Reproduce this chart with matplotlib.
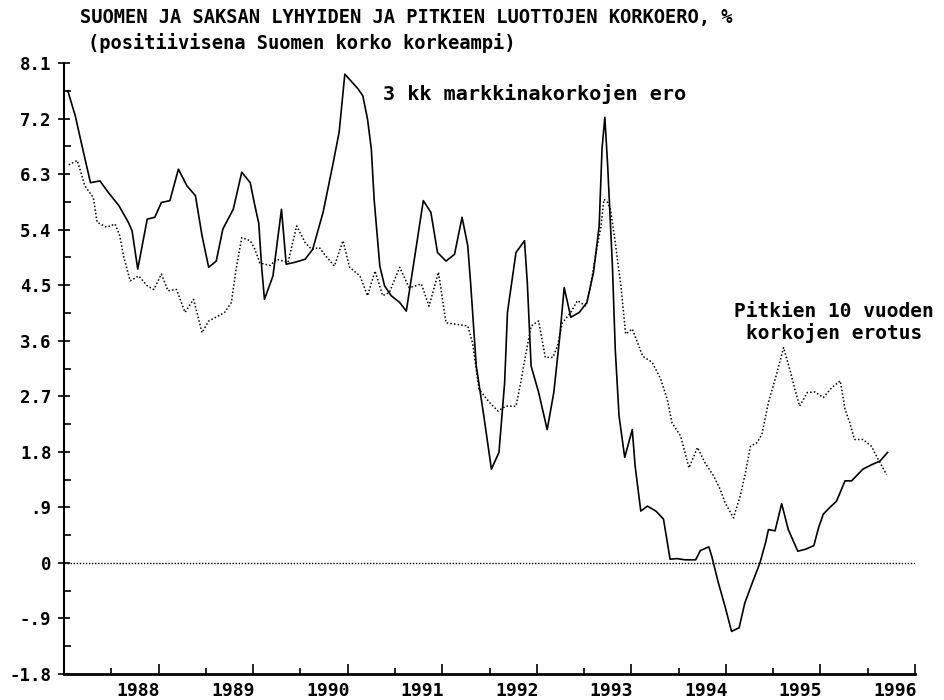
import numpy as np
import matplotlib
matplotlib.use("Agg")
import matplotlib.pyplot as plt
from matplotlib.transforms import ScaledTranslation

# 3 kk markkinakorkojen ero (kiintea viiva)
short_t = [1987.04, 1987.12, 1987.19, 1987.28, 1987.38, 1987.47, 1987.58, 1987.68, 1987.72, 1987.78,
           1987.88, 1987.96, 1988.03, 1988.12, 1988.21, 1988.30, 1988.39, 1988.46, 1988.53, 1988.61,
           1988.68, 1988.79, 1988.88, 1988.97, 1989.01, 1989.06, 1989.09, 1989.12, 1989.21, 1989.30,
           1989.35, 1989.44, 1989.55, 1989.63, 1989.74, 1989.84, 1989.91, 1989.97, 1990.11, 1990.16,
           1990.21, 1990.25, 1990.28, 1990.34, 1990.39, 1990.46, 1990.55, 1990.62, 1990.71, 1990.80,
           1990.88, 1990.95, 1991.04, 1991.13, 1991.21, 1991.27, 1991.30, 1991.36, 1991.44, 1991.52,
           1991.60, 1991.66, 1991.69, 1991.78, 1991.87, 1991.90, 1991.94, 1992.02, 1992.11, 1992.18,
           1992.24, 1992.29, 1992.36, 1992.45, 1992.53, 1992.60, 1992.66, 1992.69, 1992.72, 1992.75,
           1992.80, 1992.83, 1992.87, 1992.93, 1993.01, 1993.04, 1993.10, 1993.17, 1993.26, 1993.34,
           1993.41, 1993.48, 1993.57, 1993.68, 1993.73, 1993.82, 1993.85, 1993.92, 1993.99, 1994.06,
           1994.14, 1994.20, 1994.28, 1994.36, 1994.42, 1994.45, 1994.52, 1994.59, 1994.66, 1994.76,
           1994.84, 1994.93, 1994.98, 1995.03, 1995.10, 1995.17, 1995.26, 1995.33, 1995.38, 1995.45,
           1995.54, 1995.63, 1995.71]
short_v = [7.65, 7.24, 6.76, 6.16, 6.19, 6.00, 5.79, 5.52, 5.38, 4.76,
           5.57, 5.60, 5.84, 5.87, 6.38, 6.11, 5.95, 5.30, 4.79, 4.89,
           5.41, 5.73, 6.33, 6.16, 5.85, 5.50, 4.80, 4.27, 4.65, 5.73,
           4.84, 4.87, 4.92, 5.08, 5.68, 6.43, 6.98, 7.92, 7.68, 7.57,
           7.19, 6.71, 5.89, 4.81, 4.49, 4.33, 4.22, 4.08, 4.97, 5.87,
           5.68, 5.03, 4.89, 5.00, 5.60, 5.14, 4.54, 3.19, 2.38, 1.52,
           1.79, 2.92, 4.06, 5.03, 5.22, 4.54, 3.19, 2.76, 2.16, 2.76,
           3.62, 4.46, 3.98, 4.06, 4.22, 4.71, 5.46, 6.71, 7.22, 6.43,
           4.81, 3.46, 2.38, 1.71, 2.16, 1.57, 0.84, 0.92, 0.84, 0.71,
           0.06, 0.07, 0.05, 0.05, 0.20, 0.26, 0.11, -0.32, -0.70, -1.11,
           -1.05, -0.65, -0.32, 0.00, 0.33, 0.54, 0.52, 0.96, 0.54, 0.19,
           0.22, 0.28, 0.57, 0.79, 0.90, 1.00, 1.33, 1.33, 1.41, 1.52,
           1.59, 1.65, 1.79]

# Pitkien 10 vuoden korkojen erotus (pisteviiva)
long_t = [1987.05, 1987.14, 1987.19, 1987.22, 1987.31, 1987.35, 1987.45, 1987.54, 1987.59, 1987.63,
          1987.70, 1987.79, 1987.88, 1987.95, 1988.03, 1988.10, 1988.19, 1988.28, 1988.37, 1988.46,
          1988.53, 1988.63, 1988.70, 1988.77, 1988.82, 1988.88, 1988.97, 1989.02, 1989.07, 1989.18,
          1989.25, 1989.37, 1989.46, 1989.55, 1989.62, 1989.70, 1989.77, 1989.86, 1989.95, 1990.02,
          1990.13, 1990.21, 1990.29, 1990.37, 1990.44, 1990.55, 1990.65, 1990.72, 1990.78, 1990.86,
          1990.96, 1991.04, 1991.13, 1991.27, 1991.32, 1991.39, 1991.50, 1991.59, 1991.67, 1991.78,
          1991.83, 1991.88, 1991.94, 1992.02, 1992.09, 1992.17, 1992.22, 1992.27, 1992.36, 1992.43,
          1992.52, 1992.57, 1992.62, 1992.68, 1992.71, 1992.75, 1992.78, 1992.83, 1992.89, 1992.94,
          1993.01, 1993.12, 1993.22, 1993.31, 1993.38, 1993.43, 1993.52, 1993.61, 1993.70, 1993.78,
          1993.87, 1993.94, 1993.99, 1994.08, 1994.15, 1994.20, 1994.26, 1994.33, 1994.38, 1994.45,
          1994.54, 1994.61, 1994.68, 1994.73, 1994.78, 1994.86, 1994.94, 1995.03, 1995.12, 1995.21,
          1995.26, 1995.31, 1995.36, 1995.45, 1995.54, 1995.61, 1995.70]
long_v = [6.45, 6.52, 6.27, 6.11, 5.92, 5.52, 5.44, 5.49, 5.30, 4.97,
          4.57, 4.65, 4.49, 4.43, 4.68, 4.41, 4.43, 4.06, 4.27, 3.73,
          3.92, 4.00, 4.06, 4.22, 4.76, 5.27, 5.22, 5.08, 4.86, 4.82,
          4.92, 4.87, 5.46, 5.19, 5.08, 5.11, 4.97, 4.81, 5.22, 4.79,
          4.65, 4.33, 4.73, 4.33, 4.38, 4.79, 4.46, 4.49, 4.52, 4.16,
          4.71, 3.89, 3.87, 3.84, 3.57, 2.81, 2.60, 2.46, 2.54, 2.54,
          2.92, 3.35, 3.84, 3.92, 3.33, 3.33, 3.52, 3.89, 4.06, 4.25,
          4.16, 4.49, 4.97, 5.46, 5.89, 5.84, 5.73, 5.19, 4.49, 3.71,
          3.79, 3.35, 3.25, 2.98, 2.65, 2.27, 2.06, 1.54, 1.87, 1.62,
          1.41, 1.19, 0.98, 0.73, 1.08, 1.41, 1.89, 1.95, 2.08, 2.60,
          3.08, 3.49, 3.11, 2.81, 2.54, 2.76, 2.77, 2.68, 2.84, 2.95,
          2.49, 2.27, 2.00, 2.00, 1.89, 1.68, 1.43]

years = list(range(1988, 1997))
y_ticks = [-1.8, -0.9, 0, 0.9, 1.8, 2.7, 3.6, 4.5, 5.4, 6.3, 7.2, 8.1]
y_labels = ["-1.8", "-.9", "0", ".9", "1.8", "2.7", "3.6", "4.5", "5.4", "6.3", "7.2", "8.1"]

mono = "DejaVu Sans Mono"

fig = plt.figure(figsize=(9.45, 7), dpi=100)
ax = fig.add_axes([64 / 945, 1 - 674 / 700, (915 - 64) / 945, (674 - 63) / 700])

ax.plot(short_t, short_v, color="black", lw=1.2)
ax.plot(long_t, long_v, color="black", lw=1.1, linestyle=(0, (1, 1.4)))
ax.plot([1987, 1996], [0, 0], color="black", lw=1.0, linestyle=(0, (1, 1.2)))

ax.set_xlim(1987, 1996)
ax.set_ylim(-1.8, 8.1)

for s in ["top", "right"]:
    ax.spines[s].set_visible(False)
ax.spines["left"].set_linewidth(1.5)
ax.spines["bottom"].set_linewidth(2)

ax.set_xticks(years)
ax.set_xticklabels([str(y) for y in years], fontfamily=mono, fontweight="bold", fontsize=13)
ax.set_xticks(np.arange(1987.5, 1996, 1.0), minor=True)
ax.tick_params(axis="x", which="major", direction="in", length=7, width=1.2, pad=6)
ax.tick_params(axis="x", which="minor", direction="in", length=4, width=1.2)
shift = ScaledTranslation(-0.20, 0, fig.dpi_scale_trans)
for lab in ax.get_xticklabels():
    lab.set_transform(lab.get_transform() + shift)

ax.set_yticks(y_ticks)
ax.set_yticklabels(y_labels, fontfamily=mono, fontweight="bold", fontsize=12.5)
ax.set_yticks(np.arange(-1.35, 8.1, 0.9), minor=True)
ax.tick_params(axis="y", which="major", direction="inout", length=8, width=1.2, pad=5)
ax.tick_params(axis="y", which="minor", direction="in", length=5, width=1.2)

fig.text(80 / 945, 1 - 18 / 700, "SUOMEN JA SAKSAN LYHYIDEN JA PITKIEN LUOTTOJEN KORKOERO, %",
         fontfamily=mono, fontweight="bold", fontsize=13.5, va="center", ha="left")
fig.text(88 / 945, 1 - 43 / 700, "(positiivisena Suomen korko korkeampi)",
         fontfamily=mono, fontweight="bold", fontsize=13.5, va="center", ha="left")

ax.text(1990.37, 7.6, "3 kk markkinakorkojen ero", fontfamily=mono, fontweight="bold",
        fontsize=14.5, va="center", ha="left")
ax.text(1995.14, 3.9, "Pitkien 10 vuoden\nkorkojen erotus", fontfamily=mono, fontweight="bold",
        fontsize=14, va="center", ha="center", multialignment="center", linespacing=1.15)

fig.savefig("out.png", dpi=100)
